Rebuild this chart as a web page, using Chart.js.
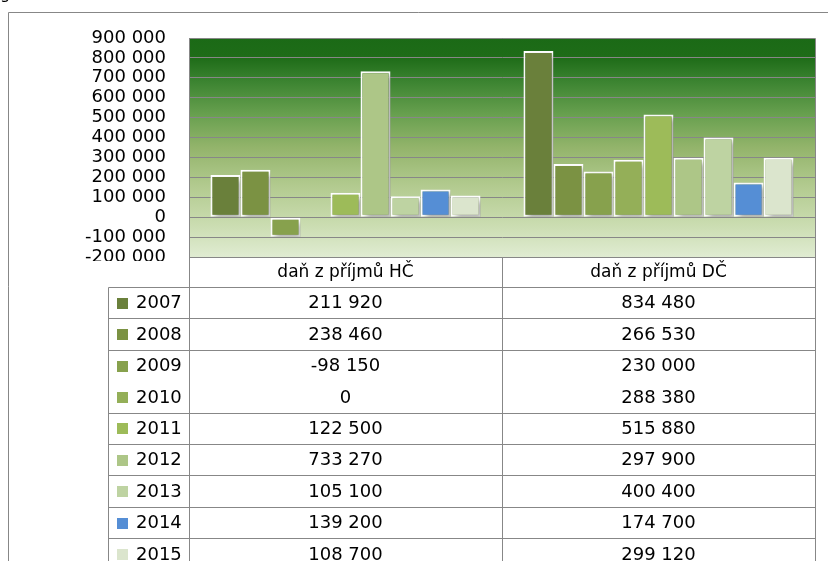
<!DOCTYPE html>
<html>
<head>
<meta charset="utf-8">
<script src="https://cdn.jsdelivr.net/npm/chart.js@4.4.1/dist/chart.umd.min.js"></script>
<style>
    html, body { margin: 0; padding: 0; background: #fff; }
    #wrap { position: relative; width: 828px; height: 561px; overflow: hidden; }
</style>
</head>
<body>
<div id="wrap"><canvas id="chart" width="828" height="561"></canvas></div>
<script>
const categories = ['daň z příjmů HČ', 'daň z příjmů DČ'];
const years = ['2007', '2008', '2009', '2010', '2011', '2012', '2013', '2014', '2015'];
const hcValues = [211920, 238460, -98150, 0, 122500, 733270, 105100, 139200, 108700];
const dcValues = [834480, 266530, 230000, 288380, 515880, 297900, 400400, 174700, 299120];
const yearColors = ['#6a803b', '#7b9243', '#87a14d', '#94af58', '#9dbb59', '#adc687', '#bed3a2', '#558ed5', '#dbe5cd'];
const yMin = -200000;
const yMax = 900000;
const yStep = 100000;

const FONT = 'DejaVu Sans';
const LINE = '#878787';

function fmt(v) {
    return String(v).replace(/\B(?=(\d{3})+(?!\d))/g, ' ');
}

// green gradient behind the plot
const plotBackground = {
    id: 'plotBackground',
    beforeDraw(chart) {
        const { ctx, chartArea: a } = chart;
        const g = ctx.createLinearGradient(0, a.top, 0, a.bottom);
        g.addColorStop(0, '#1b6a16');
        g.addColorStop(0.09, '#1e6c18');
        g.addColorStop(0.2, '#3c8431');
        g.addColorStop(0.35, '#68a04f');
        g.addColorStop(0.5, '#93b46b');
        g.addColorStop(0.68, '#b3cb90');
        g.addColorStop(0.85, '#cadcb0');
        g.addColorStop(1, '#e0ecd2');
        ctx.save();
        ctx.fillStyle = g;
        ctx.fillRect(a.left, a.top, a.right - a.left, a.bottom - a.top);
        ctx.restore();
    }
};

const barShadow = {
    id: 'barShadow',
    beforeDatasetsDraw(chart) {
        const c = chart.ctx;
        c.save();
        c.shadowColor = 'rgba(0,0,0,0.35)';
        c.shadowBlur = 5;
        c.shadowOffsetX = 3;
        c.shadowOffsetY = 3;
    },
    afterDatasetsDraw(chart) {
        chart.ctx.restore();
    }
};

// data table under the plot, columns follow the x scale
const dataTable = {
    id: 'dataTable',
    afterDraw(chart) {
        const { ctx, chartArea: a, scales: { x } } = chart;
        const H = chart.height;
        const half = (x.getPixelForValue(1) - x.getPixelForValue(0)) / 2;
        const edges = [x.getPixelForValue(0) - half, x.getPixelForValue(0) + half, x.getPixelForValue(1) + half];
        const legendLeft = 108;
        const headH = 30;
        const rowH = 31.4;
        const top = a.bottom;
        const p = v => Math.round(v) + 0.5;

        ctx.save();
        // hide the part of the bottom tick label that runs into the table
        ctx.fillStyle = '#fff';
        ctx.fillRect(60, top + 4, edges[0] - 60, headH);

        ctx.strokeStyle = LINE;
        ctx.lineWidth = 1;
        ctx.beginPath();
        // outer frame
        ctx.moveTo(8.5, H); ctx.lineTo(8.5, 12.5); ctx.lineTo(828, 12.5);
        // plot border
        ctx.moveTo(p(a.left), p(a.top)); ctx.lineTo(p(a.right), p(a.top));
        ctx.moveTo(p(a.right), p(a.top)); ctx.lineTo(p(a.right), H);
        ctx.moveTo(p(edges[0]), p(top)); ctx.lineTo(p(edges[2]), p(top));
        // header bottom and rows
        ctx.moveTo(legendLeft + 0.5, p(top + headH)); ctx.lineTo(p(edges[2]), p(top + headH));
        for (let i = 1; i < years.length; i++) {
            if (i === 3) continue; // no rule between 2009 and 2010 in the source
            const y = p(top + headH + i * rowH);
            ctx.moveTo(legendLeft + 0.5, y); ctx.lineTo(p(edges[2]), y);
        }
        // verticals
        ctx.moveTo(legendLeft + 0.5, p(top + headH)); ctx.lineTo(legendLeft + 0.5, H);
        edges.forEach(e => { ctx.moveTo(p(e), p(top)); ctx.lineTo(p(e), H); });
        ctx.stroke();

        ctx.fillStyle = '#000';
        ctx.textBaseline = 'middle';
        ctx.textAlign = 'center';
        ctx.font = '17px "' + FONT + '"';
        categories.forEach((c, i) => {
            ctx.fillText(c, x.getPixelForValue(i), top + headH / 2 + 1);
        });
        ctx.font = '18px "' + FONT + '"';
        years.forEach((yr, i) => {
            const cy = top + headH + i * rowH + rowH / 2 + 1;
            ctx.textAlign = 'center';
            ctx.fillText(fmt(hcValues[i]), x.getPixelForValue(0), cy);
            ctx.fillText(fmt(dcValues[i]), x.getPixelForValue(1), cy);
            ctx.fillStyle = yearColors[i];
            ctx.fillRect(117, Math.round(cy - 6), 11, 11);
            ctx.fillStyle = '#000';
            ctx.textAlign = 'left';
            ctx.fillText(yr, 136, cy);
        });

        // cut-off letter of the text above the chart
        ctx.textAlign = 'left';
        ctx.textBaseline = 'alphabetic';
        ctx.font = '16px "' + FONT + '"';
        ctx.fillText('g', 0, -1);
        ctx.restore();
    }
};

Chart.defaults.font.family = FONT;
Chart.defaults.font.size = 18;
Chart.defaults.color = '#000';

new Chart(document.getElementById('chart'), {
    type: 'bar',
    data: {
        labels: categories,
        datasets: years.map((yr, i) => ({
            label: yr,
            data: [hcValues[i], dcValues[i]],
            backgroundColor: yearColors[i],
            borderColor: '#ffffff',
            borderWidth: 2,
            borderSkipped: false
        }))
    },
    options: {
        responsive: false,
        animation: false,
        devicePixelRatio: 1,
        layout: { padding: { top: 38, right: 13, bottom: 304, left: 0 } },
        datasets: { bar: { categoryPercentage: 0.863, barPercentage: 1 } },
        scales: {
            x: { display: false },
            y: {
                min: yMin,
                max: yMax,
                ticks: { stepSize: yStep, padding: 23, autoSkip: false, callback: v => fmt(v) },
                grid: { color: LINE, drawTicks: false, lineWidth: 1 },
                border: { display: true, color: LINE },
                afterFit(s) { s.width = 189; }
            }
        },
        plugins: {
            legend: { display: false },
            tooltip: { enabled: false }
        }
    },
    plugins: [plotBackground, barShadow, dataTable]
});
</script>
</body>
</html>
